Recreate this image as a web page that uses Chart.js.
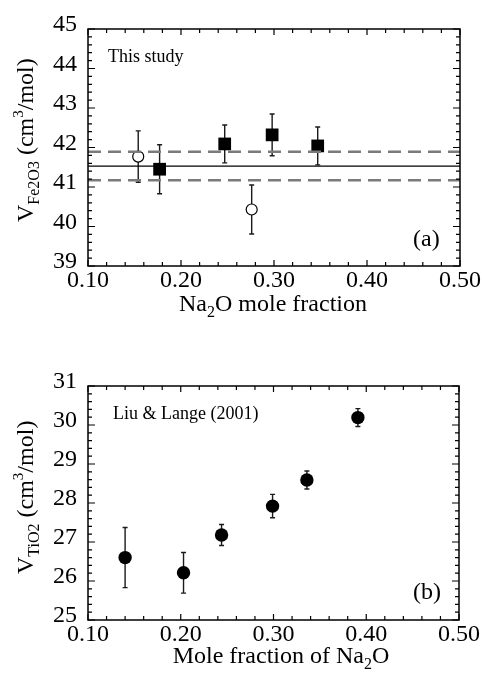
<!DOCTYPE html>
<html><head><meta charset="utf-8">
<script src="https://cdn.jsdelivr.net/npm/chart.js@4"></script>
<style>
html,body{margin:0;padding:0;background:#fff;}
body{width:482px;height:673px;position:relative;overflow:hidden;font-family:'Liberation Serif','Times New Roman',serif;color:#000;}
canvas{position:absolute;left:0;}
.t{position:absolute;white-space:nowrap;}
.yt{transform-origin:0 0;transform:rotate(-90deg);font-size:24px;line-height:24px;}
.xt{font-size:24px;line-height:24px;transform:translateX(-50%);}
.sub{font-size:16px;position:relative;top:6px;line-height:0;}
.sup{font-size:15px;position:relative;top:-10px;line-height:0;}
.ann{font-size:18px;line-height:18px;}
.lab{font-size:24px;line-height:24px;}
</style></head><body>
<canvas id="c1" width="482" height="330" style="top:0"></canvas>
<canvas id="c2" width="482" height="333" style="top:340px"></canvas>

<div class="t yt" style="left:13px;top:222px">V<span class="sub">Fe2O3</span> (cm<span class="sup">3</span>/mol)</div>
<div class="t xt" style="left:273px;top:291px">Na<span class="sub">2</span>O mole fraction</div>
<div class="t ann" style="left:108px;top:47px">This study</div>
<div class="t lab" style="left:413px;top:226px">(a)</div>

<div class="t yt" style="left:13px;top:574px">V<span class="sub">TiO2</span> (cm<span class="sup">3</span>/mol)</div>
<div class="t xt" style="left:281px;top:643px">Mole fraction of Na<span class="sub">2</span>O</div>
<div class="t ann" style="left:113px;top:404px">Liu &amp; Lange (2001)</div>
<div class="t lab" style="left:413px;top:579px">(b)</div>

<script>
// ---- Data: panel (a) This study ----
const aOpenX   = [0.154, 0.276];
const aOpenY   = [41.77, 40.43];
const aOpenErr = [0.65, 0.62];
const aSqX   = [0.177, 0.247, 0.298, 0.347];
const aSqY   = [41.45, 42.09, 42.32, 42.04];
const aSqErr = [0.62, 0.48, 0.53, 0.48];
const aMean  = 41.53;
const aBand  = [41.89, 41.17];
const aXRange = [0.10, 0.50];
const aYRange = [39, 45];

// ---- Data: panel (b) Liu & Lange (2001) ----
const bX   = [0.140, 0.203, 0.244, 0.299, 0.336, 0.391];
const bY   = [26.60, 26.21, 27.18, 27.92, 28.59, 30.19];
const bErr = [0.77, 0.52, 0.27, 0.30, 0.23, 0.23];
const bXRange = [0.10, 0.50];
const bYRange = [25, 31];

const xMajor = 0.1, xMinor = 0.02, yMajor = 1, yMinor = 0.2;

Chart.defaults.font.family = "'Liberation Serif','Times New Roman',serif";
Chart.defaults.font.size = 24;
Chart.defaults.color = '#000';

const pts = (xs, ys) => xs.map((x, i) => ({x, y: ys[i]}));
const hline = (x0, x1, y) => [{x: x0, y}, {x: x1, y}];

const framePlugin = {
  id: 'frameTicks',
  beforeDatasetsDraw(chart) {
    const ctx = chart.ctx, xs = chart.scales.x, ys = chart.scales.y;
    chart.data.datasets.forEach(ds => {
      if (!ds.err) return;
      ctx.save();
      ctx.strokeStyle = '#1a1a1a';
      ctx.lineWidth = 1.4;
      ds.data.forEach((p, i) => {
        const x = xs.getPixelForValue(p.x);
        const y1 = ys.getPixelForValue(p.y - ds.err[i]);
        const y2 = ys.getPixelForValue(p.y + ds.err[i]);
        ctx.beginPath();
        ctx.moveTo(x, y1); ctx.lineTo(x, y2);
        ctx.moveTo(x - 2.5, y1); ctx.lineTo(x + 2.5, y1);
        ctx.moveTo(x - 2.5, y2); ctx.lineTo(x + 2.5, y2);
        ctx.stroke();
      });
      ctx.restore();
    });
  },
  afterDraw(chart) {
    const ctx = chart.ctx, a = chart.chartArea, xs = chart.scales.x, ys = chart.scales.y;
    ctx.save();
    ctx.strokeStyle = '#000';
    ctx.lineWidth = 1.5;
    ctx.strokeRect(a.left, a.top, a.right - a.left, a.bottom - a.top);
    ctx.lineWidth = 1.2;
    ctx.beginPath();
    const nx = Math.round((xs.max - xs.min) / xMinor);
    for (let k = 0; k <= nx; k++) {
      const v = xs.min + k * xMinor;
      const major = Math.abs(v / xMajor - Math.round(v / xMajor)) < 1e-6;
      const L = major ? 6 : 4;
      const px = xs.getPixelForValue(v);
      ctx.moveTo(px, a.bottom); ctx.lineTo(px, a.bottom - L);
      ctx.moveTo(px, a.top); ctx.lineTo(px, a.top + L);
    }
    const ny = Math.round((ys.max - ys.min) / yMinor);
    for (let k = 0; k <= ny; k++) {
      const v = ys.min + k * yMinor;
      const major = Math.abs(v / yMajor - Math.round(v / yMajor)) < 1e-6;
      const L = major ? 7 : 4;
      const py = ys.getPixelForValue(v);
      ctx.moveTo(a.left, py); ctx.lineTo(a.left + L, py);
      ctx.moveTo(a.right, py); ctx.lineTo(a.right - L, py);
    }
    ctx.stroke();
    ctx.restore();
  }
};

function makeOptions(xr, yr, xh, pad) {
  return {
    responsive: false,
    animation: false,
    layout: {padding: pad},
    plugins: {legend: {display: false}, tooltip: {enabled: false}},
    scales: {
      x: {
        type: 'linear', min: xr[0], max: xr[1],
        grid: {display: false, drawTicks: false},
        border: {display: false},
        ticks: {stepSize: xMajor, padding: 0, maxRotation: 0, autoSkip: false,
                callback: v => Number(v).toFixed(2)},
        afterFit: s => { s.height = xh; }
      },
      y: {
        type: 'linear', min: yr[0], max: yr[1],
        grid: {display: false, drawTicks: false},
        border: {display: false},
        ticks: {stepSize: yMajor, padding: 11, labelOffset: -4,
                callback: v => String(Math.round(v))},
        afterFit: s => { s.width = 88; }
      }
    }
  };
}

new Chart(document.getElementById('c1'), {
  type: 'scatter',
  data: {
    datasets: [
      {type: 'line', data: hline(aXRange[0], aXRange[1], aBand[0]), borderColor: '#7a7a7a', borderWidth: 2.5, borderDash: [13, 7], pointRadius: 0, fill: false},
      {type: 'line', data: hline(aXRange[0], aXRange[1], aBand[1]), borderColor: '#7a7a7a', borderWidth: 2.5, borderDash: [13, 7], pointRadius: 0, fill: false},
      {type: 'line', data: hline(aXRange[0], aXRange[1], aMean), borderColor: '#000', borderWidth: 1.2, pointRadius: 0, fill: false},
      {data: pts(aOpenX, aOpenY), err: aOpenErr, pointStyle: 'circle', pointRadius: 5.5, pointBackgroundColor: '#fff', pointBorderColor: '#000', pointBorderWidth: 1.2},
      {data: pts(aSqX, aSqY), err: aSqErr, pointStyle: 'rect', pointRadius: 9, pointBackgroundColor: '#000', pointBorderColor: '#000', pointBorderWidth: 0}
    ]
  },
  options: makeOptions(aXRange, aYRange, 64, {top: 29, right: 22, left: 0, bottom: 0}),
  plugins: [framePlugin]
});

new Chart(document.getElementById('c2'), {
  type: 'scatter',
  data: {
    datasets: [
      {data: pts(bX, bY), err: bErr, pointStyle: 'circle', pointRadius: 6.7, pointBackgroundColor: '#000', pointBorderColor: '#000', pointBorderWidth: 0}
    ]
  },
  options: makeOptions(bXRange, bYRange, 53, {top: 46, right: 23, left: 0, bottom: 0}),
  plugins: [framePlugin]
});
</script>
</body></html>
